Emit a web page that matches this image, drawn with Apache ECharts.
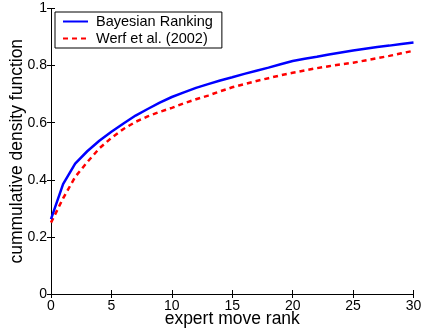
<!DOCTYPE html>
<html><head><meta charset="utf-8">
<script src="https://cdn.jsdelivr.net/npm/echarts@6/dist/echarts.min.js"></script>
<style>html,body{margin:0;padding:0;background:#fff}#c{width:423px;height:333px}</style>
</head><body><div id="c"></div>
<script>
const ranks = [0,1,2,3,4,5,6,7,8,9,10,11,12,13,14,15,16,17,18,19,20,21,22,23,24,25,26,27,28,29,30];
const bayesian = [0.262,0.385,0.457,0.500,0.537,0.568,0.597,0.625,0.648,0.670,0.690,0.706,0.722,0.735,0.748,0.759,0.771,0.782,0.793,0.805,0.816,0.824,0.831,0.839,0.846,0.853,0.859,0.865,0.870,0.876,0.881];
const werf = [0.250,0.335,0.410,0.462,0.510,0.547,0.578,0.603,0.622,0.638,0.652,0.668,0.682,0.695,0.710,0.724,0.735,0.746,0.756,0.766,0.775,0.783,0.791,0.798,0.804,0.810,0.818,0.826,0.834,0.843,0.852];
const seriesNames = ['Bayesian Ranking','Werf et al. (2002)'];
const xName = 'expert move rank';
const yName = 'cummulative density function';

const font = 'Liberation Sans, Arial, Helvetica, sans-serif';
const chart = echarts.init(document.getElementById('c'), null, {renderer:'canvas'});
const axisCommon = {
  axisLine:{show:true,lineStyle:{color:'#000',width:1}},
  axisTick:{show:true,inside:true,length:4,lineStyle:{color:'#000'}},
  splitLine:{show:false}
};
chart.setOption({
  animation:false,
  backgroundColor:'#fff',
  grid:{left:51,right:9.5,top:8.5,bottom:39,containLabel:false,outerBoundsMode:'none'},
  legend:{
    orient:'vertical', left:55, top:12,
    borderColor:'#000', borderWidth:1, backgroundColor:'#fff',
    padding:[2,9,2,7], itemGap:2, itemWidth:25, itemHeight:14.5,
    itemStyle:{opacity:0},
    textStyle:{fontFamily:font,fontSize:14.5,color:'#000',padding:[0,0,0,3]},
    data:seriesNames
  },
  xAxis:[
    Object.assign({type:'value',min:0,max:30,interval:5,
      name:xName,nameLocation:'middle',nameGap:16,nameMoveOverlap:false,
      nameTextStyle:{fontFamily:font,fontSize:17.5,color:'#000'},
      axisLabel:{fontFamily:font,fontSize:14,color:'#000',margin:5}},axisCommon),
    Object.assign({type:'value',min:0,max:30,interval:5,position:'top',axisLabel:{show:false}},axisCommon)
  ],
  yAxis:[
    Object.assign({type:'value',min:0,max:1,interval:0.2,
      name:yName,nameLocation:'middle',nameGap:25,nameMoveOverlap:false,
      nameTextStyle:{fontFamily:font,fontSize:17.5,color:'#000'},
      axisLabel:{fontFamily:font,fontSize:14,color:'#000',margin:4}},axisCommon),
    Object.assign({type:'value',min:0,max:1,interval:0.2,position:'right',axisLabel:{show:false}},axisCommon)
  ],
  series:[
    {name:seriesNames[0],type:'line',showSymbol:false,symbol:'none',
      data:ranks.map((x,i)=>[x,bayesian[i]]),
      lineStyle:{color:'#0000ff',width:2.5},itemStyle:{color:'#0000ff'},z:3},
    {name:seriesNames[1],type:'line',showSymbol:false,symbol:'none',
      data:ranks.map((x,i)=>[x,werf[i]]),
      lineStyle:{color:'#ff0000',width:2.5,type:[5,4]},itemStyle:{color:'#ff0000'},z:2}
  ]
});
</script></body></html>
